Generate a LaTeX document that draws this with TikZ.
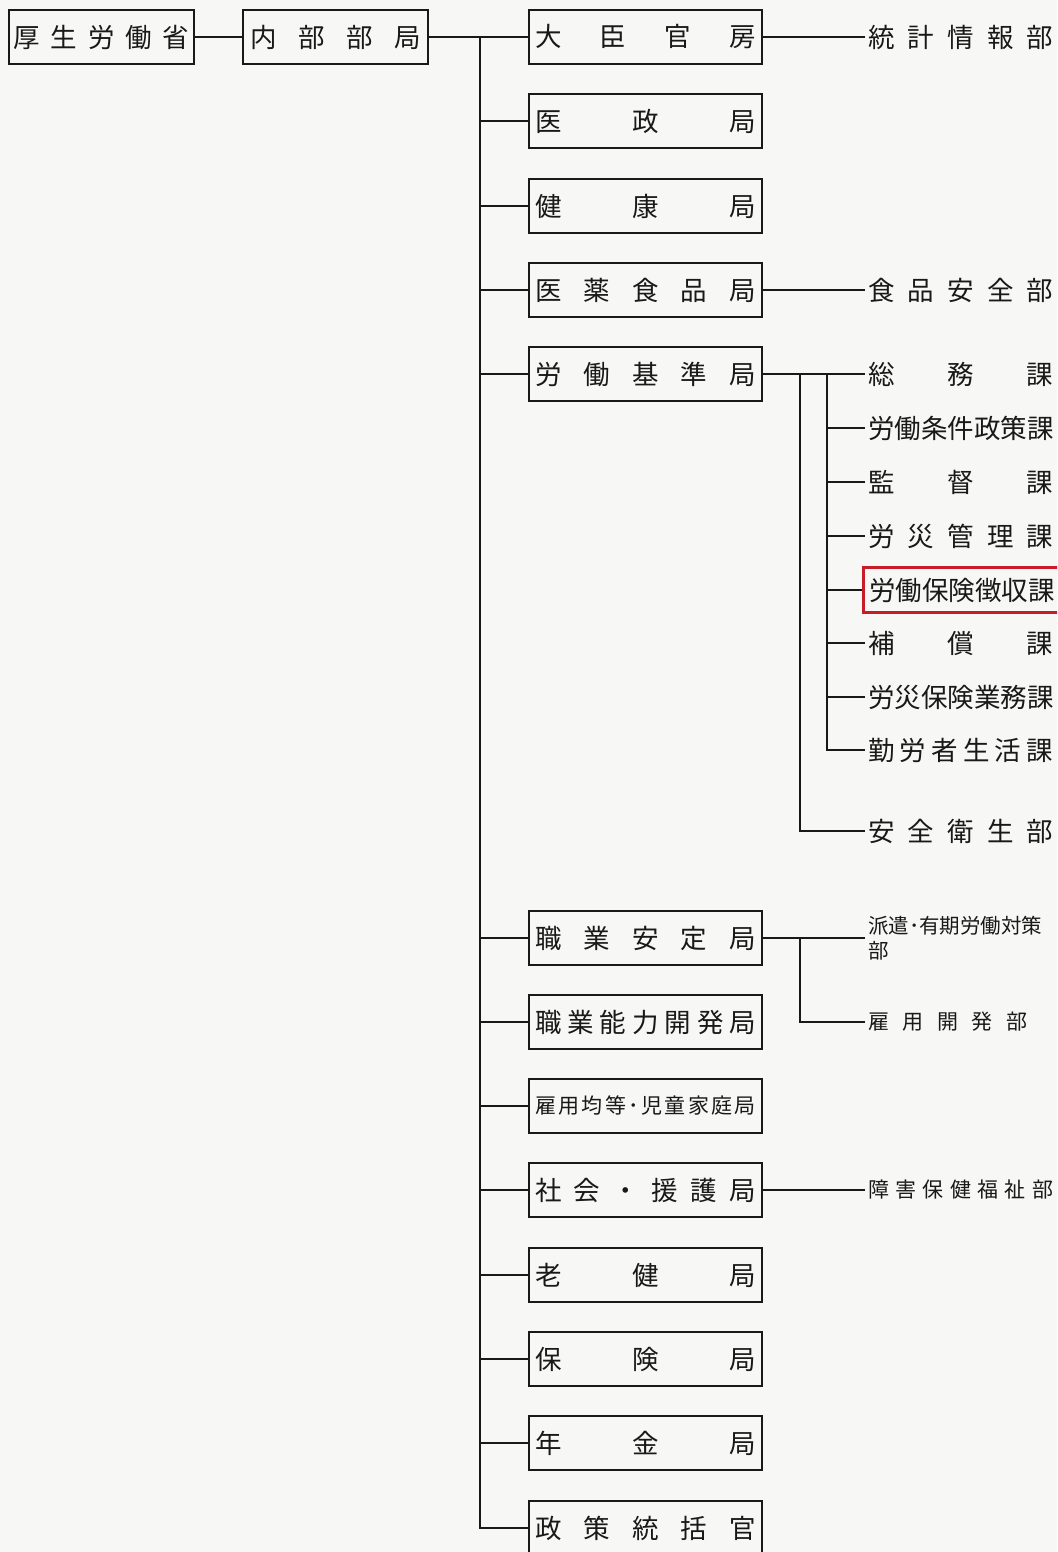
\documentclass[tikz,border=0pt]{standalone}
\usepackage{fontspec}
\setmainfont{Noto Sans CJK JP}
\newcommand\HF{\hfill}
\newcommand\fsz[1]{\fontsize{#1}{#1}\selectfont}
\newcommand\spr[2]{\makebox[#1pt][s]{#2}}
\definecolor{ink}{RGB}{25,25,25}
\definecolor{redbox}{RGB}{200,28,40}
\definecolor{paper}{RGB}{247,247,245}
\begin{document}
\begin{tikzpicture}[x=1pt,y=-1pt,
  box/.style={draw=ink, line width=2.8pt, minimum height=54pt, inner sep=0pt, text=ink, font=\fsz{26.5}},
  midbox/.style={box, minimum width=233pt},
  lab/.style={anchor=west, inner xsep=3pt, inner ysep=0pt, text=ink, font=\fsz{26.5}},
  slab/.style={lab, font=\fsz{21}},
  conn/.style={draw=ink, line width=2.8pt}]
\useasboundingbox (0,0) rectangle (1057,1552);
\fill[paper] (0,0) rectangle (1057,1552);
\begin{scope}
\clip (0,0) rectangle (1057,1552);
% left boxes
\node[box, minimum width=185pt] (mhlw) at (101.5,37) {\spr{176}{厚\HF 生\HF 労\HF 働\HF 省}};
\node[box, minimum width=185pt] (naibu) at (335.5,37) {\spr{170}{内\HF 部\HF 部\HF 局}};
% middle boxes
\node[midbox] (m1) at (645.5,37) {\spr{221}{大\HF 臣\HF 官\HF 房}};
\node[midbox] (m2) at (645.5,121) {\spr{221}{医\HF 政\HF 局}};
\node[midbox] (m3) at (645.5,206) {\spr{221}{健\HF 康\HF 局}};
\node[midbox] (m4) at (645.5,290) {\spr{221}{医\HF 薬\HF 食\HF 品\HF 局}};
\node[midbox] (m5) at (645.5,374) {\spr{221}{労\HF 働\HF 基\HF 準\HF 局}};
\node[midbox] (m6) at (645.5,938) {\spr{221}{職\HF 業\HF 安\HF 定\HF 局}};
\node[midbox] (m7) at (645.5,1022) {\spr{221}{職\HF 業\HF 能\HF 力\HF 開\HF 発\HF 局}};
\node[midbox] (m8) at (645.5,1106) {\fsz{21}\spr{221}{雇\HF 用\HF 均\HF 等\HF ･\HF 児\HF 童\HF 家\HF 庭\HF 局}};
\node[midbox] (m9) at (645.5,1190) {\spr{221}{社\HF 会\HF ・\HF 援\HF 護\HF 局}};
\node[midbox] (m10) at (645.5,1275) {\spr{221}{老\HF 健\HF 局}};
\node[midbox] (m11) at (645.5,1359) {\spr{221}{保\HF 険\HF 局}};
\node[midbox] (m12) at (645.5,1443) {\spr{221}{年\HF 金\HF 局}};
\node[midbox] (m13) at (645.5,1528) {\spr{221}{政\HF 策\HF 統\HF 括\HF 官}};
% right labels
\node[lab] (r1) at (865,37) {\spr{185}{統\HF 計\HF 情\HF 報\HF 部}};
\node[lab] (r4) at (865,290) {\spr{185}{食\HF 品\HF 安\HF 全\HF 部}};
\node[lab] (k1) at (865,374) {\spr{185}{総\HF 務\HF 課}};
\node[lab] (k2) at (865,428) {\spr{185}{労\HF 働\HF 条\HF 件\HF 政\HF 策\HF 課}};
\node[lab] (k3) at (865,482) {\spr{185}{監\HF 督\HF 課}};
\node[lab] (k4) at (865,536) {\spr{185}{労\HF 災\HF 管\HF 理\HF 課}};
\node[lab, draw=redbox, line width=2.8pt, inner xsep=6pt, minimum height=45pt] (k5) at (862,590) {\spr{185}{労\HF 働\HF 保\HF 険\HF 徴\HF 収\HF 課}};
\node[lab] (k6) at (865,643) {\spr{185}{補\HF 償\HF 課}};
\node[lab] (k7) at (865,697) {\spr{185}{労\HF 災\HF 保\HF 険\HF 業\HF 務\HF 課}};
\node[lab] (k8) at (865,750) {\spr{185}{勤\HF 労\HF 者\HF 生\HF 活\HF 課}};
\node[lab] (anzen) at (865,831) {\spr{185}{安\HF 全\HF 衛\HF 生\HF 部}};
\node[slab, align=left, font=\fontsize{20.5}{25}\selectfont] (haken) at (865,938) {派遣･有期労働対策\\部};
\node[slab] (koyo) at (865,1022) {\spr{159}{雇\HF 用\HF 開\HF 発\HF 部}};
\node[slab] (shogai) at (865,1190) {\spr{185}{障\HF 害\HF 保\HF 健\HF 福\HF 祉\HF 部}};
% connectors
\draw[conn] (mhlw.east) -- (naibu.west);
\draw[conn] (naibu.east) -- (m1.west);
\coordinate (trunk) at (480,37);
\foreach \m in {m2,m3,m4,m5,m6,m7,m8,m9,m10,m11,m12,m13}
  \draw[conn] (trunk) |- (\m.west);
\draw[conn] (m1.east) -- (r1.west);
\draw[conn] (m4.east) -- (r4.west);
\draw[conn] (m5.east) -- (k1.west);
\coordinate (bA) at (800,374);
\coordinate (bB) at (827,374);
\draw[conn] (bA) |- (anzen.west);
\foreach \k in {k2,k3,k4,k5,k6,k7,k8}
  \draw[conn] (bB) |- (\k.west);
\draw[conn] (m6.east) -- (haken.west);
\coordinate (bC) at (800,938);
\draw[conn] (bC) |- (koyo.west);
\draw[conn] (m9.east) -- (shogai.west);
\end{scope}
\end{tikzpicture}
\end{document}
